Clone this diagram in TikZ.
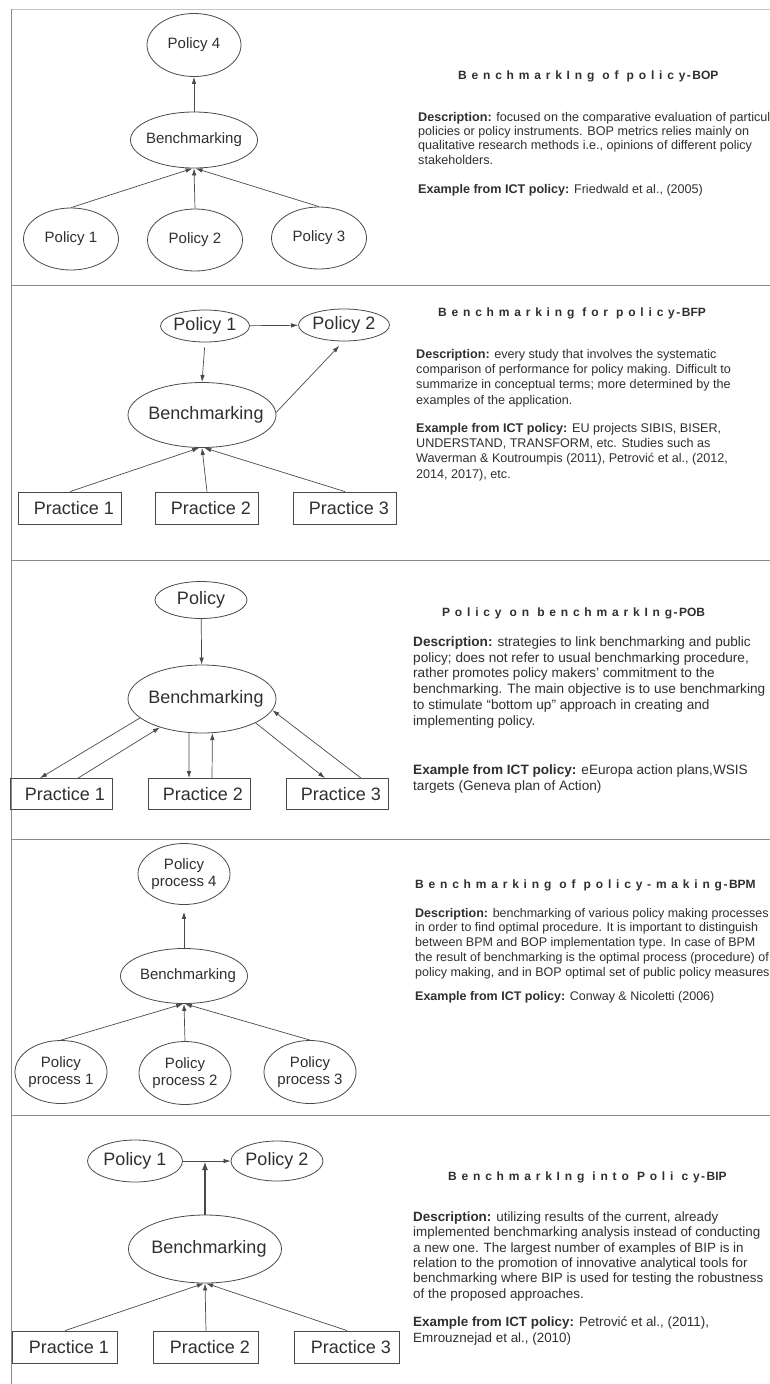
\documentclass[tikz,border=0pt]{standalone}
\usepackage{fontspec}
\setmainfont{Liberation Sans}
\newfontfamily\spacedfont[LetterSpace=40]{Liberation Sans}
\usetikzlibrary{arrows.meta,calc,positioning,shapes.geometric}
\definecolor{ink}{HTML}{2F2F2F}
\definecolor{edge}{HTML}{4A4A4A}
\definecolor{rule}{HTML}{8A8A8A}
\newcommand{\bmtitle}[2]{{\spacedfont\bfseries #1}{\bfseries\hspace{1.5pt}-\hspace{1.5pt}#2}}

\begin{document}
\begin{tikzpicture}[
    x=1pt, y=-1pt,
    ell/.style={ellipse, draw=edge, line width=0.8pt, inner xsep=-10pt, inner ysep=0pt, align=center, text=ink},
    box/.style={rectangle, draw=edge, line width=0.8pt, inner sep=0pt, minimum width=103pt, minimum height=32pt, text=ink, font=\fontsize{18}{20}\selectfont, nudge},
    nudge/.style={execute at begin node={\hspace*{8pt}}},
    small/.style={font=\fontsize{15}{17}\selectfont},
    big/.style={font=\fontsize{18}{20}\selectfont},
    arr/.style={-{Latex[length=7pt,width=4.5pt]}, line width=0.7pt, draw=edge},
    boldarr/.style={-{Latex[length=9pt,width=6pt]}, line width=1.8pt, draw=edge},
    rulebar/.style={draw=rule, line width=1pt},
    heading/.style={anchor=base west, inner sep=0pt, text=ink, font=\fontsize{12}{14}\selectfont},
    % base of a multi-line para is its last line
    para/.style={anchor=base west, inner sep=0pt, align=left, text=ink}
  ]
  \useasboundingbox (0,0) rectangle (770,1384);

  % frame
  \draw[rule!50, line width=1pt] (11,9) -- (770,9);
  \draw[rulebar] (11,9) -- (11,1384);
  \foreach \yy in {285,560,839,1115}
    \draw[rulebar] (11,\yy) -- (770,\yy);

  % BOP
  \node[ell, small, minimum width=94pt, minimum height=63pt] (bopTop) at (194,45) {Policy 4};
  \node[ell, small, minimum width=127pt, minimum height=56pt] (bopBench) at (194,140) {Benchmarking};
  \node[ell, small, minimum width=95pt, minimum height=62pt] (bopPol1) at (71,239) {Policy 1};
  \node[ell, small, minimum width=95pt, minimum height=62pt] (bopPol2) at (195,240) {Policy 2};
  \node[ell, small, minimum width=95pt, minimum height=62pt] (bopPol3) at (319,238) {Policy 3};
  \draw[arr] (bopBench) -- (bopTop);
  \draw[arr] (bopPol1.north) -- (bopBench.-93);
  \draw[arr] (bopPol2.north) -- (bopBench.-90);
  \draw[arr] (bopPol3.north) -- (bopBench.-87);
  \node[heading] (bopHead) at (458,79) {\bmtitle{BenchmarkIng of policy}{BOP}};
  \node[para, font=\fontsize{12.6}{14.3}\selectfont] (bopDesc) at (418,164)
    {\textbf{Description:} focused on the comparative evaluation of particul\\
     policies or policy instruments. BOP metrics relies mainly on\\
     qualitative research methods i.e., opinions of different policy\\
     stakeholders.};
  \node[para, font=\fontsize{12.6}{14.3}\selectfont] (bopEx) at (418,193)
    {\textbf{Example from ICT policy:} Friedwald et al., (2005)};

  % BFP
  \node[ell, big, minimum width=89pt, minimum height=32pt] (bfpPol1) at (205,326) {Policy 1};
  \node[ell, big, minimum width=91pt, minimum height=32pt] (bfpPol2) at (344,325) {Policy 2};
  \node[ell, big, nudge, minimum width=148pt, minimum height=65pt] (bfpBench) at (202,415) {Benchmarking};
  \node[box] (bfpPr1) at (70,508) {Practice 1};
  \node[box] (bfpPr2) at (207,508) {Practice 2};
  \node[box] (bfpPr3) at (345,508) {Practice 3};
  \draw[arr] (bfpPol1) -- (bfpPol2);
  \draw[arr, shorten <=5pt] (bfpPol1.south) -- (bfpBench.north);
  \draw[arr, shorten >=6pt] (bfpBench.2) -- (bfpPol2.-92);
  \draw[arr] (bfpPr1.north) -- (bfpBench.-95);
  \draw[arr] (bfpPr2.north) -- (bfpBench.-90);
  \draw[arr] (bfpPr3.north) -- (bfpBench.-86);
  \node[heading] (bfpHead) at (438,316) {\bmtitle{Benchmarking for policy}{BFP}};
  \node[para, font=\fontsize{12.6}{15.3}\selectfont] (bfpDesc) at (416,404)
    {\textbf{Description:} every study that involves the systematic\\
     comparison of performance for policy making. Difficult to\\
     summarize in conceptual terms; more determined by the\\
     examples of the application.};
  \node[para, font=\fontsize{12.6}{15.3}\selectfont] (bfpEx) at (416,478)
    {\textbf{Example from ICT policy:} EU projects SIBIS, BISER,\\
     UNDERSTAND, TRANSFORM, etc. Studies such as\\
     Waverman \& Koutroumpis (2011), Petrović et al., (2012,\\
     2014, 2017), etc.};

  % POB
  \node[ell, big, minimum width=92pt, minimum height=37pt] (pobPol) at (201,600) {Policy};
  \node[ell, big, nudge, minimum width=148pt, minimum height=68pt] (pobBench) at (202,699) {Benchmarking};
  \node[box, minimum width=102pt, minimum height=31pt] (pobPr1) at (61,794) {Practice 1};
  \node[box, minimum width=102pt, minimum height=31pt] (pobPr2) at (199,794) {Practice 2};
  \node[box, minimum width=102pt, minimum height=31pt] (pobPr3) at (337,794) {Practice 3};
  \draw[arr] (pobPol) -- (pobBench);
  \draw[arr] (pobBench.197) -- ([xshift=-21pt]pobPr1.north);
  \draw[arr] ([xshift=17pt]pobPr1.north) -- (pobBench.214);
  \draw[arr] (pobBench.249) -- ([xshift=-10pt]pobPr2.north);
  \draw[arr] ([xshift=13pt]pobPr2.north) -- (pobBench.287);
  \draw[arr] (pobBench.336) -- ([xshift=-12pt]pobPr3.north);
  \draw[arr] ([xshift=24pt]pobPr3.north) -- (pobBench.351);
  \node[heading] (pobHead) at (442,616) {\bmtitle{Policy on benchmarkIng}{POB}};
  \node[para, font=\fontsize{13.6}{15.7}\selectfont] (pobDesc) at (413,725)
    {\textbf{Description:} strategies to link benchmarking and public\\
     policy; does not refer to usual benchmarking procedure,\\
     rather promotes policy makers’ commitment to the\\
     benchmarking. The main objective is to use benchmarking\\
     to stimulate “bottom up” approach in creating and\\
     implementing policy.};
  \node[para, font=\fontsize{13.6}{15.7}\selectfont] (pobEx) at (413,790)
    {\textbf{Example from ICT policy:} eEuropa action plans,WSIS\\
     targets (Geneva plan of Action)};

  % BPM
  \node[ell, small, minimum width=92pt, minimum height=61pt] (bpmTop) at (184,874) {Policy\\process 4};
  \node[ell, small, nudge, minimum width=127pt, minimum height=55pt] (bpmBench) at (184,976) {Benchmarking};
  \node[ell, small, minimum width=92pt, minimum height=63pt] (bpmPro1) at (61,1072) {Policy\\process 1};
  \node[ell, small, minimum width=92pt, minimum height=63pt] (bpmPro2) at (185,1073) {Policy\\process 2};
  \node[ell, small, minimum width=92pt, minimum height=63pt] (bpmPro3) at (310,1072) {Policy\\process 3};
  \draw[arr, shorten >=7pt] (bpmBench) -- (bpmTop);
  \draw[arr] (bpmPro1.north) -- (bpmBench.-92);
  \draw[arr] (bpmPro2.north) -- (bpmBench.-90);
  \draw[arr] (bpmPro3.north) -- (bpmBench.-88);
  \node[heading] (bpmHead) at (415,888) {\bmtitle{Benchmarking of policy-making}{BPM}};
  \node[para, font=\fontsize{12.5}{14.7}\selectfont] (bpmDesc) at (415,976)
    {\textbf{Description:} benchmarking of various policy making processes\\
     in order to find optimal procedure. It is important to distinguish\\
     between BPM and BOP implementation type. In case of BPM\\
     the result of benchmarking is the optimal process (procedure) of\\
     policy making, and in BOP optimal set of public policy measures};
  \node[para, font=\fontsize{12.5}{14.7}\selectfont] (bpmEx) at (415,1000)
    {\textbf{Example from ICT policy:} Conway \& Nicoletti (2006)};

  % BIP
  \node[ell, big, minimum width=95pt, minimum height=42pt] (bipPol1) at (135,1161) {Policy 1};
  \node[ell, big, minimum width=92pt, minimum height=40pt] (bipPol2) at (277,1161) {Policy 2};
  \node[ell, big, nudge, minimum width=153pt, minimum height=68pt] (bipBench) at (205,1249) {Benchmarking};
  \node[box, minimum width=105pt] (bipPr1) at (65,1347) {Practice 1};
  \node[box, minimum width=105pt] (bipPr2) at (206,1347) {Practice 2};
  \node[box, minimum width=105pt] (bipPr3) at (347,1347) {Practice 3};
  \draw[arr] (bipPol1) -- coordinate (bipMid) (bipPol2);
  \draw[boldarr] (bipBench.north) -- (bipBench.north |- bipMid);
  \draw[arr] (bipPr1.north) -- (bipBench.-92);
  \draw[arr] (bipPr2.north) -- (bipBench.-90);
  \draw[arr] (bipPr3.north) -- (bipBench.-88);
  \node[heading] (bipHead) at (448,1180) {\bmtitle{BenchmarkIng into Poli cy}{BIP}};
  \node[para, font=\fontsize{13.4}{15.3}\selectfont] (bipDesc) at (413,1298)
    {\textbf{Description:} utilizing results of the current, already\\
     implemented benchmarking analysis instead of conducting\\
     a new one. The largest number of examples of BIP is in\\
     relation to the promotion of innovative analytical tools for\\
     benchmarking where BIP is used for testing the robustness\\
     of the proposed approaches.};
  \node[para, font=\fontsize{13.4}{15.3}\selectfont] (bipEx) at (413,1342)
    {\textbf{Example from ICT policy:} Petrović et al., (2011),\\
     Emrouznejad et al., (2010)};
\end{tikzpicture}
\end{document}
